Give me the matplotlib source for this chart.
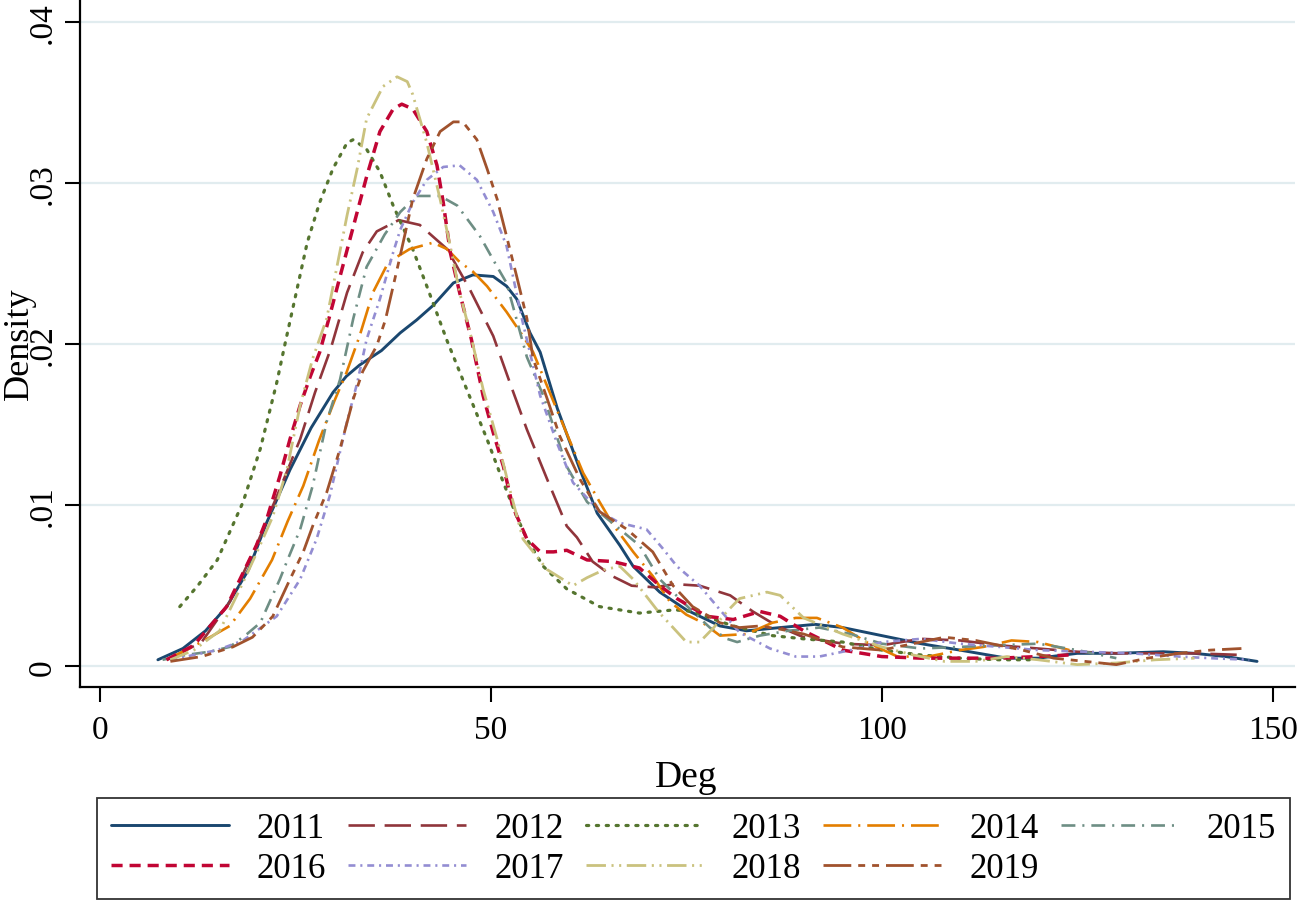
import matplotlib
matplotlib.use("Agg")
import matplotlib.pyplot as plt

plt.rcParams['font.family'] = ['Liberation Serif', 'DejaVu Serif']
plt.rcParams['lines.scale_dashes'] = False

# kernel density curves (Deg, Density)
deg_2011 = [7.4, 10.6, 13.5, 16.2, 19, 21.3, 24.3, 27, 29.8, 31.5, 33.2, 36, 38.4, 40.5, 42.6, 45.2, 47.7, 50.3, 52, 53.3, 55,
            56.3, 58.5, 61.4, 63.6, 66.5, 68.2, 71.6, 75, 79.3, 82.7, 87, 91.5, 95, 100, 105, 110, 116, 120, 125, 130, 136, 140,
            144, 148]
dens_2011 = [.0004, .0011, .0022, .0037, .0060, .0089, .0122, .0148, .0170, .0180, .0187, .0196, .0207, .0215, .0224, .0238,
             .0243, .0242, .0236, .0228, .0207, .0195, .0160, .0122, .0095, .0075, .0062, .0046, .0035, .0025, .0022, .0024,
             .0026, .0024, .0019, .0014, .0010, .0005, .0005, .0008, .0008, .0009, .0008, .0006, .0003]

deg_2012 = [9, 13, 16.6, 20, 23, 25.6, 27.5, 29.5, 31.6, 33.6, 35.4, 38.2, 40.9, 44.4, 47.3, 50.3, 52.5, 54.6, 57.2, 59.7, 61, 63,
            65.5, 68, 71, 73.5, 76.7, 80.6, 83.5, 86.6, 90, 95, 100, 105, 110, 115, 120, 125, 130, 135, 140, 146]
dens_2012 = [.0005, .0015, .0040, .0075, .0110, .0141, .0170, .0197, .0232, .0257, .0270, .0277, .0274, .0259, .0234, .0205, .0175,
             .0147, .0116, .0087, .0080, .0065, .0056, .0050, .0049, .0051, .0050, .0044, .0034, .0025, .0018, .0014, .0013, .0017,
             .0016, .0013, .0011, .0009, .0008, .0008, .0008, .0007]

deg_2013 = [10.2, 12.5, 15, 18.3, 20.5, 22.6, 23.7, 26.5, 28.1, 29.8, 31.6, 32.4, 34.1, 35.8, 37.5, 40, 41.8, 44.4, 46.9, 49.5,
            51.6, 53.3, 54.6, 56.7, 59.7, 63.9, 69, 73.5, 75.8, 78, 81, 86, 90, 95, 100, 105, 110, 115, 119]
dens_2013 = [.0037, .0050, .0066, .0102, .0135, .0176, .0201, .0263, .0288, .0309, .0325, .0327, .0321, .0307, .0286, .0259, .0236,
             .0202, .0172, .0141, .0114, .0093, .0079, .0062, .0048, .0037, .0033, .0035, .0034, .0030, .0025, .0019, .0017, .0015,
             .0010, .0007, .0005, .0004, .0004]

deg_2014 = [8.5, 11, 13.7, 16.6, 19.2, 22, 24, 26, 28, 30, 31.5, 33.2, 34.9, 36.9, 39.6, 42.6, 44.4, 46, 47.7, 49.5, 52, 54.1,
            55.4, 58.8, 61.8, 63.9, 65.6, 68.2, 70.7, 72.9, 75, 77.1, 79.3, 82.7, 86, 89, 91.7, 95, 98, 102, 106, 110, 113, 116.6,
            120, 124]
dens_2014 = [.0004, .0010, .0017, .0025, .0042, .0066, .0090, .0112, .0140, .0165, .0182, .0205, .0232, .0251, .0259, .0263, .0259,
             .0251, .0245, .0236, .0220, .0205, .0195, .0155, .0120, .0102, .0088, .0071, .0056, .0040, .0032, .0027, .0019, .0020,
             .0027, .0030, .0030, .0024, .0015, .0006, .0006, .0010, .0012, .0016, .0015, .0010]

deg_2015 = [8, 11, 14, 16.6, 18.8, 20.5, 21.7, 23, 23.9, 25.6, 27.2, 29, 30.7, 32.4, 34.1, 36.4, 38.4, 40.5, 43.5, 45.7, 48.6,
            50.8, 52, 54.6, 56.7, 59.7, 62.3, 66.5, 69, 71.6, 75.8, 78, 80.2, 81.5, 84.4, 88, 92, 96, 100, 105, 110, 115, 120,
            125, 130]
dens_2015 = [.0004, .0007, .0009, .0012, .0020, .0027, .0040, .0054, .0065, .0085, .0112, .0152, .0178, .0216, .0248, .0268, .0282,
             .0292, .0292, .0286, .0267, .0248, .0238, .0192, .0168, .0124, .0102, .0085, .0075, .0054, .0034, .0024, .0017, .0015,
             .0019, .0022, .0024, .0020, .0014, .0011, .0012, .0013, .0014, .0010, .0005]

deg_2016 = [8.5, 12, 16.2, 20, 21.3, 23, 24.3, 25.6, 26.9, 28.1, 29.4, 30.7, 32.4, 34.1, 35.8, 37.5, 38.6, 40, 41.8, 43.1, 43.9,
            44.8, 46, 47.5, 49, 50.3, 51.6, 52.8, 54.6, 56.3, 58, 59.7, 62.3, 65.6, 69, 71.6, 73.8, 77.6, 81, 84.4, 87, 90, 95,
            100, 105, 110, 115, 120, 124]
dens_2016 = [.0004, .0013, .0037, .0075, .0091, .0118, .0141, .0162, .0180, .0195, .0218, .0242, .0273, .0304, .0332, .0346, .0349,
             .0346, .0332, .0311, .0288, .0257, .0232, .0203, .0168, .0145, .0124, .0099, .0079, .0071, .0071, .0072, .0066, .0065,
             .0061, .0050, .0042, .0031, .0029, .0034, .0031, .0022, .0010, .0006, .0005, .0005, .0005, .0006, .0007]

deg_2017 = [9, 12, 15, 18.3, 22.6, 25.6, 27.7, 29.4, 31.6, 32.9, 34.1, 35.8, 37.5, 38.4, 40, 41.8, 43.9, 46, 48.2, 50.3, 52, 54,
            56.3, 58.5, 60.5, 63.9, 66.5, 69.9, 72, 73.8, 76.7, 79.3, 81.8, 85.7, 89, 92, 96, 100, 105, 110, 115, 120, 126, 132,
            138, 142, 147]
dens_2017 = [.0004, .0007, .0010, .0016, .0031, .0054, .0079, .0106, .0152, .0176, .0203, .0228, .0257, .0271, .0288, .0302, .0310,
             .0311, .0302, .0282, .0261, .0215, .0168, .0138, .0114, .0096, .0089, .0085, .0073, .0062, .0050, .0035, .0021, .0011,
             .0006, .0006, .0010, .0015, .0017, .0014, .0012, .0010, .0009, .0008, .0006, .0005, .0004]

deg_2018 = [9, 12, 15.3, 17.9, 20, 22.1, 23.9, 25.6, 27.2, 29, 30.3, 31.6, 32.9, 34.1, 36.2, 38, 39.3, 40, 41.8, 43.5, 44.8, 46,
            47.5, 49, 50.8, 52.4, 54.1, 57.2, 60.5, 62.3, 64.5, 66.5, 68.2, 71.4, 75, 76.7, 78.5, 80.2, 81.8, 85.3, 87, 90, 95,
            100, 104, 108, 112, 116, 120, 125, 130, 135, 140]
dens_2018 = [.0004, .0010, .0022, .0048, .0070, .0093, .0122, .0162, .0191, .0216, .0248, .0280, .0309, .0340, .0360, .0366, .0363,
             .0355, .0325, .0290, .0261, .0232, .0204, .0172, .0141, .0110, .0079, .0060, .0050, .0055, .0060, .0062, .0054, .0034,
             .0015, .0015, .0024, .0034, .0042, .0046, .0044, .0030, .0020, .0012, .0007, .0003, .0003, .0006, .0004, .0001, .0002,
             .0004, .0005]

deg_2019 = [9, 13, 17, 19.5, 22.1, 24.3, 26, 27.2, 29, 30.7, 32.4, 33.6, 35.4, 36.5, 38.4, 40, 41.8, 43.5, 45.2, 46.4, 48.2, 49.5,
            50.8, 52, 53.3, 54.6, 55.4, 57.2, 58.8, 61.4, 63.9, 67.4, 70.7, 73.3, 75.8, 79.3, 81.8, 84.4, 87, 90, 95, 100, 105,
            108, 112, 118, 122, 126, 130, 134, 138, 142, 146]
dens_2019 = [.0003, .0006, .0012, .0018, .0031, .0054, .0071, .0087, .0108, .0135, .0166, .0183, .0199, .0215, .0255, .0290, .0315,
             .0332, .0338, .0338, .0327, .0309, .0290, .0267, .0242, .0216, .0191, .0166, .0143, .0116, .0096, .0085, .0071, .0050,
             .0037, .0027, .0024, .0025, .0023, .0020, .0012, .0010, .0015, .0018, .0016, .0010, .0005, .0003, .0001, .0005, .0008,
             .0010, .0011]

years = ['2011', '2012', '2013', '2014', '2015', '2016', '2017', '2018', '2019']
degs = [deg_2011, deg_2012, deg_2013, deg_2014, deg_2015, deg_2016, deg_2017, deg_2018, deg_2019]
denss = [dens_2011, dens_2012, dens_2013, dens_2014, dens_2015, dens_2016, dens_2017, dens_2018, dens_2019]

# stata s2color palette and line patterns
colors = ['#1a476f', '#90353b', '#55752f', '#e37e00', '#6e8e84', '#c10534', '#938dd2', '#cac27e', '#a0522d']
patterns = [None, (19, 7), (1.6, 5.5), (20, 5, 1.5, 5), (10, 5, 1.5, 5), (8, 5), (5, 3.5, 1.5, 3.5),
            (14, 4, 1.5, 4, 1.5, 4), (20, 5, 5, 5, 5, 5)]
widths = [2.1, 1.9, 2.3, 1.9, 1.9, 2.5, 1.9, 2.0, 2.0]

fig = plt.figure(figsize=(12.99, 9.2), dpi=100)
ax = fig.add_axes([0.0616, 0.252, 0.935, 0.748])

lines = []
for yr, x, y, c, p, w in zip(years, degs, denss, colors, patterns, widths):
    if p is None:
        ln, = ax.plot(x, y, color=c, lw=w, label=yr, solid_capstyle='round')
    else:
        ln, = ax.plot(x, y, color=c, lw=w, label=yr, dashes=p,
                      dash_capstyle='round' if p[0] < 2 else 'butt')
    lines.append(ln)

ax.set_xlim(-2.56, 152.8)
ax.set_ylim(-0.0013, 0.04143)
ax.set_xticks([0, 50, 100, 150])
ax.set_yticks([0, .01, .02, .03, .04])
ax.set_yticklabels(['0', '.01', '.02', '.03', '.04'], rotation=90, va='center')
ax.grid(axis='y', color='#e1ecef', lw=1.6)
ax.set_axisbelow(True)

for s in ['top', 'right']:
    ax.spines[s].set_visible(False)
for s in ['left', 'bottom']:
    ax.spines[s].set_linewidth(1.6)
ax.tick_params(axis='both', length=11, width=1.5, labelsize=24, direction='out')
ax.tick_params(axis='x', pad=9)
ax.tick_params(axis='y', pad=5)

ax.set_xlabel('Deg', fontsize=27)
ax.xaxis.set_label_coords(0.499, -0.105)
ax.set_ylabel('Density', fontsize=26)
ax.yaxis.set_label_coords(-0.036, 0.5)

# legend in row order like stata: ncol fills column-wise
order = [0, 5, 1, 6, 2, 7, 3, 8, 4]
leg = fig.legend([lines[i] for i in order], [years[i] for i in order], ncol=5,
                 loc='lower left', bbox_to_anchor=(0.0747, 0.0217, 0.918, 0.112), mode='expand',
                 fontsize=25, frameon=True, fancybox=False, edgecolor='black',
                 handlelength=3.4, handletextpad=0.8, columnspacing=1.0, borderaxespad=0.0,
                 labelspacing=0.2)
leg.get_frame().set_linewidth(1.3)

fig.savefig('out.png', dpi=100, facecolor='white')
